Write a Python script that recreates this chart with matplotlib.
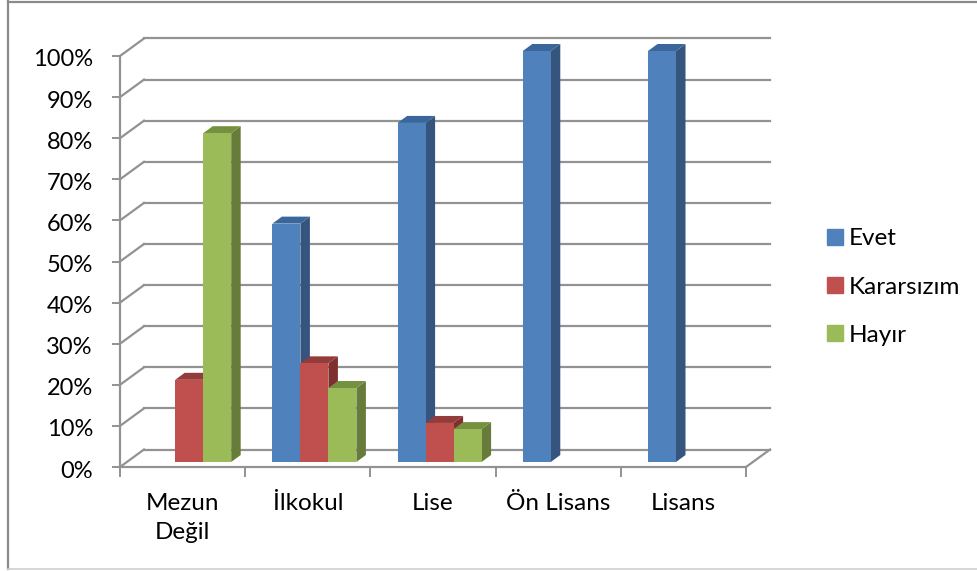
import matplotlib
matplotlib.use("Agg")
import matplotlib.pyplot as plt
from matplotlib.patches import Rectangle
from matplotlib.lines import Line2D
from matplotlib.transforms import ScaledTranslation

categories = ["Mezun\nDeğil", "İlkokul", "Lise", "Ön Lisans", "Lisans"]
series_names = ["Evet", "Kararsızım", "Hayır"]
evet = [0, 58, 82.5, 100, 100]
kararsizim = [20, 24, 9.5, 0, 0]
hayir = [80, 18, 8, 0, 0]
y_ticks = list(range(0, 101, 10))

front = ["#4F81BD", "#C0504D", "#9BBB59"]
top = ["#3B669B", "#943C3A", "#75903F"]
side = ["#35547E", "#7F2F2D", "#677C3B"]
grid = "#929292"
text = "#000000"
FS = 17
FS_X = 17.5

W, H = 977, 571
plt.rcParams["font.family"] = ["Lato", "DejaVu Sans"]
fig = plt.figure(figsize=(W / 100, H / 100), dpi=100)
L, R, T0, B0 = 120, 746, 56, 467
ax = fig.add_axes([L / W, 1 - B0 / H, (R - L) / W, (B0 - T0) / H])
ax.set_xlim(0, 5)
ax.set_ylim(0, 100)
ax.patch.set_alpha(0)

px = 5 / (R - L)
py = 100 / (B0 - T0)
wall_dx, wall_dy = 24 * px, 17.5 * py
base_dx, base_dy = 6.6 * px, 5 * py
bar_w = 28 * px
depth_dx, depth_dy = 9.5 * px, 7 * py

for v in y_ticks:
    ax.plot([wall_dx, 5 + wall_dx], [v + wall_dy] * 2, color=grid, lw=1.6, zorder=1, clip_on=False)
    ax.plot([0, wall_dx], [v, v + wall_dy], color=grid, lw=1.6, zorder=1, clip_on=False)
ax.plot([5, 5 + wall_dx], [0, wall_dy], color=grid, lw=1.6, zorder=1, clip_on=False)

z = 2
for i in range(len(categories)):
    for s, vals in enumerate([evet, kararsizim, hayir]):
        v = vals[i]
        if v <= 0:
            continue
        x0 = i + 0.5 + base_dx + (s - 1.5) * bar_w
        y0 = base_dy
        y1 = base_dy + v
        x1 = x0 + bar_w
        ax.fill([x1, x1 + depth_dx, x1 + depth_dx, x1],
                [y0, y0 + depth_dy, y1 + depth_dy, y1], color=side[s], lw=0, zorder=z, clip_on=False)
        ax.fill([x0, x1, x1 + depth_dx, x0 + depth_dx],
                [y1, y1, y1 + depth_dy, y1 + depth_dy], color=top[s], lw=0, zorder=z, clip_on=False)
        ax.bar(x0, v, width=bar_w, bottom=y0, align="edge", color=front[s], lw=0, zorder=z, clip_on=False)
        z += 1

for name in ["top", "right"]:
    ax.spines[name].set_visible(False)
for name in ["bottom", "left"]:
    ax.spines[name].set_color(grid)
    ax.spines[name].set_linewidth(1.6)
    ax.spines[name].set_zorder(1)

ax.set_yticks(y_ticks)
ax.set_yticklabels([f"{v}%" for v in y_ticks])
ax.set_xticks([i + 0.5 for i in range(len(categories))])
ax.set_xticklabels(categories, linespacing=1.45)
ax.set_xticks(range(len(categories) + 1), minor=True)
ax.tick_params(axis="y", length=6, width=1.4, color=grid, labelsize=FS, labelcolor=text, pad=13.5)
ax.tick_params(axis="x", which="major", length=0, labelsize=FS_X, labelcolor=text, pad=19)
ax.tick_params(axis="x", which="minor", length=7, width=1.4, color=grid)

shift = ScaledTranslation(0, -2 / 100, fig.dpi_scale_trans)
for lab in ax.get_yticklabels():
    lab.set_transform(lab.get_transform() + shift)

handles = [Rectangle((0, 0), 1, 1, color=c) for c in front]
fig.legend(handles, series_names, loc="center left", bbox_to_anchor=(808 / W, 1 - 287 / H),
           frameon=False, fontsize=FS_X, labelspacing=1.12, handlelength=0.62, handleheight=0.62,
           handletextpad=0.26, borderpad=0.3, labelcolor=text)

for xs, ys, col, lw in [([8, 8], [1, 569], "#8A8A8A", 1.6),
                        ([8, 977], [1.5, 1.5], "#8A8A8A", 1.6),
                        ([8, 977], [569, 569], "#D0D0D0", 1.2)]:
    fig.add_artist(Line2D([x / W for x in xs], [1 - y / H for y in ys], color=col, lw=lw))

fig.savefig("out.png", dpi=100, facecolor="white")
